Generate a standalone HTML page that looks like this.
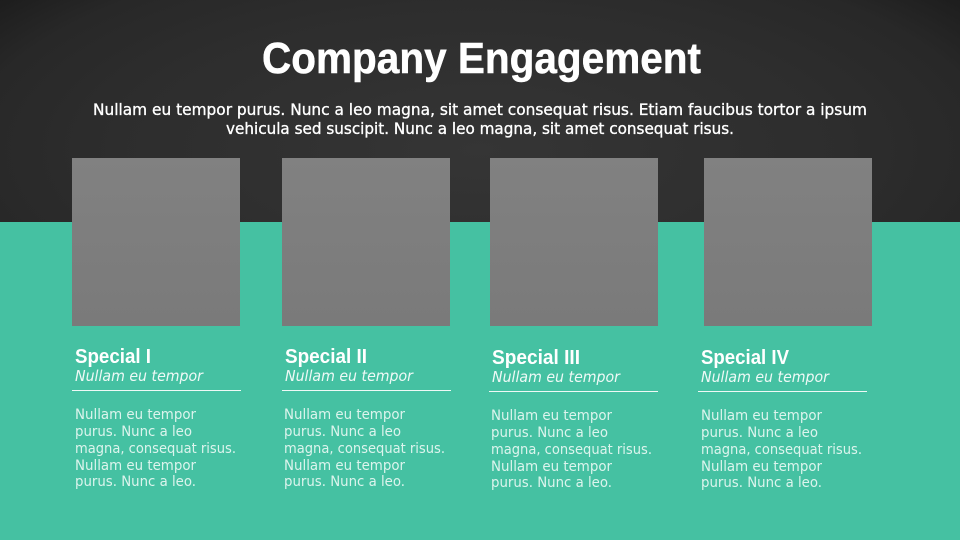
<!DOCTYPE html>
<html><head><meta charset="utf-8"><style>
html,body{margin:0;padding:0;background:#45c1a2}
svg{display:block}
text{font-family:"DejaVu Sans","Liberation Sans",sans-serif;fill:#fff}
.t{font-family:"Liberation Sans",sans-serif;font-size:44px;font-weight:bold;stroke:#fff;stroke-width:.5px}
.h{font-family:"Liberation Sans",sans-serif;font-size:20px;font-weight:bold}
.i{font-size:15.5px;font-style:italic;fill:#eef9f6;font-weight:normal}
.b{font-size:14.5px;fill:#dcf4ed}
.s{font-size:16px;stroke:#fff;stroke-width:.35px}
</style></head><body>
<svg width="960" height="540" viewBox="0 0 960 540" xmlns="http://www.w3.org/2000/svg">
<defs>
<radialGradient id="d" gradientUnits="userSpaceOnUse" cx="0" cy="0" r="610" gradientTransform="translate(480 150) scale(1 .4)">
<stop offset="0" stop-color="#353535"/><stop offset=".6" stop-color="#2d2d2d"/><stop offset=".84" stop-color="#282828"/><stop offset="1" stop-color="#1d1d1d"/></radialGradient>
<linearGradient id="g" x1="0" y1="0" x2="0" y2="1"><stop offset="0" stop-color="#818181"/><stop offset="1" stop-color="#7a7a7a"/></linearGradient>
</defs>
<rect width="960" height="540" fill="#45c1a2"/>
<rect width="960" height="222" fill="url(#d)"/>
<text class="t" x="262" y="73" textLength="439" lengthAdjust="spacingAndGlyphs">Company Engagement</text>
<text class="s" x="93" y="115" textLength="774" lengthAdjust="spacingAndGlyphs">Nullam eu tempor purus. Nunc a leo magna, sit amet consequat risus. Etiam faucibus tortor a ipsum</text>
<text class="s" x="226" y="134" textLength="508" lengthAdjust="spacingAndGlyphs">vehicula sed suscipit. Nunc a leo magna, sit amet consequat risus.</text>
<rect x="72" y="158" width="168" height="168" fill="url(#g)"/>
<rect x="282" y="158" width="168" height="168" fill="url(#g)"/>
<rect x="490" y="158" width="168" height="168" fill="url(#g)"/>
<rect x="704" y="158" width="168" height="168" fill="url(#g)"/>

<text class="h" x="75" y="363" textLength="76" lengthAdjust="spacingAndGlyphs">Special I</text>
<text class="i" x="75" y="381" textLength="128" lengthAdjust="spacingAndGlyphs">Nullam eu tempor</text>
<rect x="72" y="390" width="169" height="1" fill="#eef9f6"/>
<text class="b" x="75" y="419" textLength="121" lengthAdjust="spacingAndGlyphs">Nullam eu tempor</text>
<text class="b" x="75" y="436" textLength="117" lengthAdjust="spacingAndGlyphs">purus. Nunc a leo</text>
<text class="b" x="75" y="453" textLength="161" lengthAdjust="spacingAndGlyphs">magna, consequat risus.</text>
<text class="b" x="75" y="470" textLength="121" lengthAdjust="spacingAndGlyphs">Nullam eu tempor</text>
<text class="b" x="75" y="486" textLength="121" lengthAdjust="spacingAndGlyphs">purus. Nunc a leo.</text>

<text class="h" x="285" y="363" textLength="82" lengthAdjust="spacingAndGlyphs">Special II</text>
<text class="i" x="285" y="381" textLength="128" lengthAdjust="spacingAndGlyphs">Nullam eu tempor</text>
<rect x="282" y="390" width="169" height="1" fill="#eef9f6"/>
<text class="b" x="284" y="419" textLength="121" lengthAdjust="spacingAndGlyphs">Nullam eu tempor</text>
<text class="b" x="284" y="436" textLength="117" lengthAdjust="spacingAndGlyphs">purus. Nunc a leo</text>
<text class="b" x="284" y="453" textLength="161" lengthAdjust="spacingAndGlyphs">magna, consequat risus.</text>
<text class="b" x="284" y="470" textLength="121" lengthAdjust="spacingAndGlyphs">Nullam eu tempor</text>
<text class="b" x="284" y="486" textLength="121" lengthAdjust="spacingAndGlyphs">purus. Nunc a leo.</text>

<text class="h" x="492" y="364" textLength="88" lengthAdjust="spacingAndGlyphs">Special III</text>
<text class="i" x="492" y="382" textLength="128" lengthAdjust="spacingAndGlyphs">Nullam eu tempor</text>
<rect x="489" y="391" width="169" height="1" fill="#eef9f6"/>
<text class="b" x="491" y="420" textLength="121" lengthAdjust="spacingAndGlyphs">Nullam eu tempor</text>
<text class="b" x="491" y="437" textLength="117" lengthAdjust="spacingAndGlyphs">purus. Nunc a leo</text>
<text class="b" x="491" y="454" textLength="161" lengthAdjust="spacingAndGlyphs">magna, consequat risus.</text>
<text class="b" x="491" y="471" textLength="121" lengthAdjust="spacingAndGlyphs">Nullam eu tempor</text>
<text class="b" x="491" y="487" textLength="121" lengthAdjust="spacingAndGlyphs">purus. Nunc a leo.</text>

<text class="h" x="701" y="364" textLength="88" lengthAdjust="spacingAndGlyphs">Special IV</text>
<text class="i" x="701" y="382" textLength="128" lengthAdjust="spacingAndGlyphs">Nullam eu tempor</text>
<rect x="698" y="391" width="169" height="1" fill="#eef9f6"/>
<text class="b" x="701" y="420" textLength="121" lengthAdjust="spacingAndGlyphs">Nullam eu tempor</text>
<text class="b" x="701" y="437" textLength="117" lengthAdjust="spacingAndGlyphs">purus. Nunc a leo</text>
<text class="b" x="701" y="454" textLength="161" lengthAdjust="spacingAndGlyphs">magna, consequat risus.</text>
<text class="b" x="701" y="471" textLength="121" lengthAdjust="spacingAndGlyphs">Nullam eu tempor</text>
<text class="b" x="701" y="487" textLength="121" lengthAdjust="spacingAndGlyphs">purus. Nunc a leo.</text>
</svg>
</body></html>
